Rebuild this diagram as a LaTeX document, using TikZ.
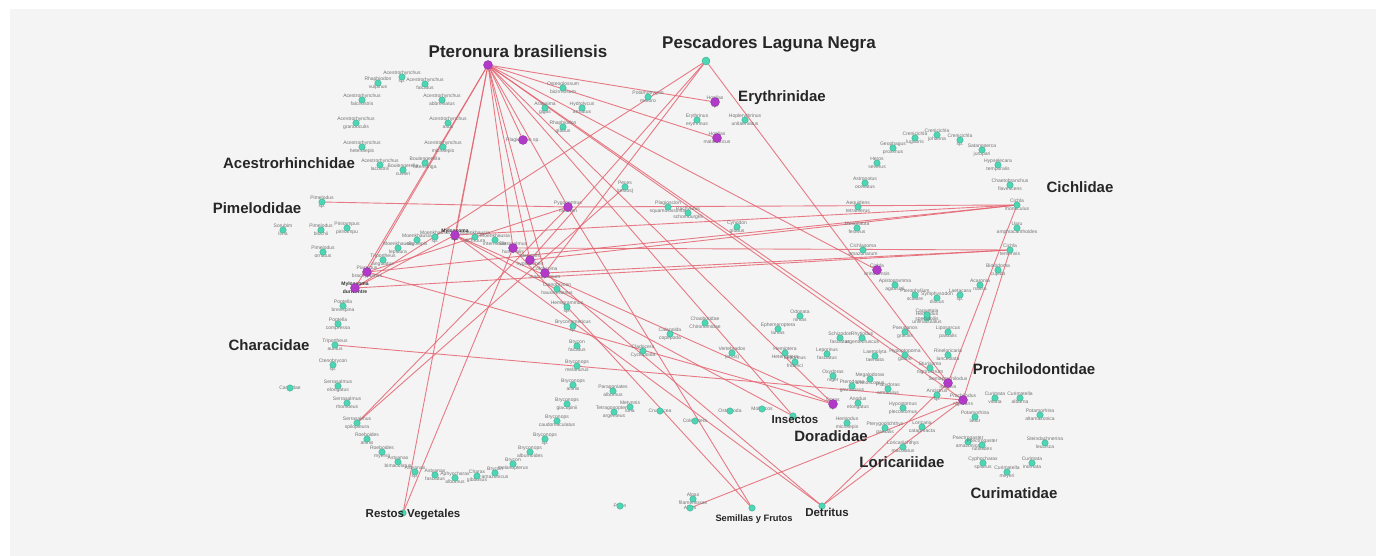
\documentclass[tikz,border=0pt]{standalone}
\usepackage{fontspec}
\setmainfont{Liberation Sans}
\definecolor{tealc}{RGB}{76,214,180}
\definecolor{purp}{RGB}{178,58,200}
\definecolor{edgec}{RGB}{228,100,112}
\definecolor{panel}{RGB}{244,244,244}
\pgfdeclarelayer{bg}
\pgfsetlayers{bg,main}
\begin{document}
\begin{tikzpicture}[x=1pt,y=-1pt,
  sp/.style={circle,fill=tealc,draw=tealc!75!black,line width=0.3pt,minimum size=6.5pt,inner sep=0pt},
  bsp/.style={sp,minimum size=8pt},
  hub/.style={circle,fill=purp,draw=purp!75!black,line width=0.3pt,minimum size=9pt,inner sep=0pt},
  tl/.style={font=\fontsize{5}{8}\selectfont,text=black!55,align=center,inner sep=0pt},
  tlb/.style={font=\fontsize{5}{8}\selectfont\bfseries,text=black!80,align=center,inner sep=0pt},
  fam/.style={font=\fontsize{15}{17}\selectfont\bfseries,text=black!85,inner sep=0pt},
  bigl/.style={font=\fontsize{17}{19}\selectfont\bfseries,text=black!85,inner sep=0pt},
  resl/.style={font=\fontsize{11.5}{13}\selectfont\bfseries,text=black!85,inner sep=0pt},
  seml/.style={font=\fontsize{9.3}{11}\selectfont\bfseries,text=black!85,inner sep=0pt},
  edge/.style={draw=edgec,line width=0.9pt,opacity=0.85}
]
\useasboundingbox (0,0) rectangle (1376,556);
\begin{pgfonlayer}{bg}
\fill[white] (0,0) rectangle (1376,556);
\fill[panel] (10,9) rectangle (1376,556);
\end{pgfonlayer}

% ---------- small species nodes ----------
\foreach \x/\y/\g/\s [count=\i] in {
402/77/Acestrorhynchus/sp.,
378/83/Rhaphiodon/vulpinus,
425/84/Acestrorhynchus/falcatus,
362/100/Acestrorhynchus/falcirostris,
442/100/Acestrorhynchus/abbreviatus,
356/123/Acestrorhynchus/grandoculis,
448/123/Acestrorhynchus/altus,
362/147/Acestrorhynchus/heterolepis,
443/147/Acestrorhynchus/microlepis,
380/165/Acestrorhynchus/lacustris,
403/170/Boulengerella/cuvieri,
425/163/Boulengerella/lateristriga,
283/230/Sorubim/lima,
321/230/Pimelodus/blochii,
347/228/Pinirampus/pirinampu,
323/252/Pimelodus/ornatus,
383/260/Triportheus/angulatus,
398/248/Moenkhausia/lepidura,
417/240/Moenkhausia/oligolepis,
435/237/Moenkhausia/sp.,
475/237/Moenkhausia/dichroura,
495/240/Moenkhausia/intermedia,
343/306/Poptella/brevispina,
338/324/Poptella/compressa,
333/365/Ctenobrycon/sp.,
338/386/Serrasalmus/elongatus,
347/403/Serrasalmus/rhombeus,
367/439/Roeboides/affinis,
382/452/Roeboides/myersii,
398/462/Astyanax/bimaculatus,
415/472/Astyanax/sp.,
435/475/Astyanax/fasciatus,
455/478/Aphyocharax/alburnus,
477/476/Charax/gibbosus,
495/473/Brycon/amazonicus,
513/464/Brycon/melanopterus,
530/452/Bryconops/alburnoides,
545/439/Bryconops/sp.,
557/421/Bryconops/caudomaculatus,
567/404/Bryconops/giacopinii,
573/385/Bryconops/affinis,
577/366/Bryconops/melanurus,
577/346/Brycon/falcatus,
573/326/Bryconamericus/sp.,
567/307/Hemigrammus/sp.,
557/289/Ctenobrycon/hauxwellianus,
613/391/Paragoniates/alburnus,
614/412/Tetragonopterus/argenteus,
630/407/Metynnis/luna,
643/351/Cladocera/Cyclopoida,
670/334/Calanoida/copepoda,
705/323/Chaoboridae/Chironomidae,
732/353/Vertebrados/(otros),
778/329/Ephemeroptera/larvas,
800/316/Odonata/ninfas,
785/353/Hemiptera/Heteroptera,
795/362/Leporinus/friderici,
827/354/Leporinus/fasciatus,
840/338/Schizodon/fasciatus,
862/338/Rhytiodus/argenteofuscus,
875/356/Laemolyta/taeniata,
833/376/Oxydoras/niger,
852/386/Pterodoras/granulosus,
870/379/Megalodoras/uranoscopus,
888/389/Platydoras/armatulus,
858/403/Anodus/elongatus,
847/423/Hemiodus/microlepis,
885/428/Pterygoplichthys/pardalis,
903/408/Hypostomus/plecostomus,
922/427/Loricaria/cataphracta,
903/447/Loricariichthys/maculatus,
905/332/Pseudanos/gracilis,
927/318/Hemiodus/unimaculatus,
948/332/Liposarcus/pardalis,
905/355/Hypoptopoma/gulare,
930/368/Sturisoma/nigrirostrum,
948/355/Rineloricaria/lanceolata,
937/395/Ancistrus/sp.,
995/398/Curimata/vittata,
1020/398/Curimatella/alburna,
975/417/Potamorhina/latior,
1040/415/Potamorhina/altamazonica,
968/442/Psectrogaster/amazonica,
982/445/Psectrogaster/rutiloides,
1045/443/Steindachnerina/leucisca,
983/463/Cyphocharax/spilurus,
1032/463/Curimata/inornata,
1007/472/Curimatella/meyeri,
915/138/Crenicichla/lugubris,
937/135/Crenicichla/johanna,
960/140/Crenicichla/sp.,
893/148/Geophagus/proximus,
982/150/Satanoperca/jurupari,
877/163/Heros/severus,
998/165/Hypselecara/temporalis,
865/183/Astronotus/ocellatus,
1010/185/Chaetobranchus/flavescens,
858/207/Aequidens/tetramerus,
857/228/Mesonauta/festivus,
1017/228/Uaru/amphiacanthoides,
863/250/Cichlasoma/amazonarum,
998/270/Biotodoma/cupido,
895/285/Apistogramma/agassizii,
980/285/Acaronia/nassa,
915/295/Pterophyllum/scalare,
937/298/Symphysodon/discus,
960/295/Laetacara/sp.,
927/315/Caquetaia/spectabilis,
563/88/Osteoglossum/bicirrhosum,
545/108/Arapaima/gigas,
582/108/Hydrolycus/armatus,
563/127/Rhaphiodon/gibbus,
648/97/Potamotrygon/motoro,
697/120/Erythrinus/erythrinus,
745/120/Hoplerythrinus/unitaeniatus,
668/207/Plagioscion/squamosissimus,
688/213/Pachyurus/schomburgkii,
737/227/Cynodon/gibbus,
693/499/Algas/filamentosas}
{\node[tl] (l\i) at (\x,\y) {\g\\\s}; \node[sp] (s\i) at (\x,\y) {};}

% single-line small nodes
\node[tl] (lcar) at (290,388) {Cardiidae};
\node[sp] (car) at (290,388) {};
\node[tl] (lcru) at (660,411) {Crustacea};
\node[sp] (cru) at (660,411) {};
\node[tl] (lcol) at (695,421) {Coleoptera};
\node[sp] (col) at (695,421) {};
\node[tl] (lost) at (730,411) {Ostracoda};
\node[sp] (ost) at (730,411) {};
\node[tl] (lmol) at (762,409) {Moluscos};
\node[sp] (mol) at (762,409) {};
\node[tl] (lpol) at (620,506) {Polen};
\node[sp] (pol) at (620,506) {};

% ---------- named teal nodes ----------
\node[tl] (lpim) at (322,202) {Pimelodus\\sp.};
\node[sp] (pim) at (322,202) {};
\node[tl] (lpec) at (625,187) {Peces\\(restos)};
\node[sp] (pec) at (625,187) {};
\node[tl] (lchr) at (335,345) {Triportheus\\auritus};
\node[sp] (chr) at (335,345) {};
\node[tl] (lcl) at (357,423) {Serrasalmus\\spilopleura};
\node[sp] (cl) at (357,423) {};
\node[tl] (lca) at (1017,205) {Cichla\\monoculus};
\node[sp] (ca) at (1017,205) {};
\node[tl] (lcb) at (1010,250) {Cichla\\temensis};
\node[sp] (cb) at (1010,250) {};
\node[tl] (lalg) at (690,508) {Algas};
\node[sp] (alg) at (690,508) {};
\node[sp] (ins) at (793,416) {};
\node[sp] (det) at (822,506) {};
\node[sp] (sem) at (752,508) {};
\node[sp] (res) at (403,513) {};
\node[bsp] (pq) at (706,61) {};

% ---------- purple nodes ----------
\node[hub] (pt) at (488,65) {};
\node[tl] (le1) at (715,102) {Hoplias\\sp.};
\node[hub] (e1) at (715,102) {};
\node[tl] (le2) at (717,138) {Hoplias\\malabaricus};
\node[hub] (e2) at (717,138) {};
\node[tl] (lm1) at (523,140) {Plagioscion sp.};
\node[hub] (m1) at (523,140) {};
\node[tl] (lhb) at (568,207) {Pygocentrus\\nattereri};
\node[hub] (hb) at (568,207) {};
\node[tlb] (lc1) at (455,235) {Mylossoma\\sp.};
\node[hub] (c1) at (455,235) {};
\node[tl] (lc2) at (513,248) {Serrasalmus\\humeralis};
\node[hub] (c2) at (513,248) {};
\node[tl] (lc3) at (530,260) {Metynnis\\hypsauchen};
\node[hub] (c3) at (530,260) {};
\node[tl] (lc4) at (545,273) {Colossoma\\macropomum};
\node[hub] (c4) at (545,273) {};
\node[tl] (lc5) at (367,272) {Piaractus\\brachypomus};
\node[hub] (c5) at (367,272) {};
\node[tlb] (lc6) at (355,288) {Mylossoma\\duriventre};
\node[hub] (c6) at (355,288) {};
\node[tl] (lk) at (877,270) {Cichla\\orinocensis};
\node[hub] (k) at (877,270) {};
\node[tl] (lpr1) at (948,383) {Semaprochilodus\\insignis};
\node[hub] (pr1) at (948,383) {};
\node[tl] (lpr2) at (963,400) {Prochilodus\\nigricans};
\node[hub] (pr2) at (963,400) {};
\node[tl] (ldor) at (833,404) {Doras\\sp.};
\node[hub] (dor) at (833,404) {};

% ---------- group labels ----------
\node[bigl] (tpt) at (518,51) {Pteronura brasiliensis};
\node[bigl] (tpq) at (769,44) {Pescadores Laguna Negra};
\node[fam] (tery) at (782,98) {Erythrinidae};
\node[fam] (tace) at (289,163) {Acestrorhinchidae};
\node[fam] (tpim) at (257,208) {Pimelodidae};
\node[fam] (tcic) at (1080,187) {Cichlidae};
\node[fam] (tcha) at (269,345) {Characidae};
\node[fam] (tpro) at (1034,369) {Prochilodontidae};
\node[fam] (tcur) at (1014,493) {Curimatidae};
\node[fam] (tlor) at (902,462) {Loricariidae};
\node[fam] (tdor) at (831,436) {Doradidae};
\node[resl] (tins) at (795,420) {Insectos};
\node[resl] (tdet) at (827,512) {Detritus};
\node[seml] (tsem) at (754,519) {Semillas y Frutos};
\node[resl] (tres) at (413,515) {Restos Vegetales};

% ---------- connectors ----------
\begin{pgfonlayer}{bg}
\foreach \a/\b in {pt/c5,pt/c6,pt/res,pt/c1,pt/c2,pt/c3,pt/c4,pt/hb,pt/e1,pt/e2,pt/k,
  pt/pr1,pt/pr2,pt/dor,pt/ins,pt/m1,
  pq/c3,pq/c4,pq/pr1,pq/c6,
  ca/c5,ca/c1,ca/c3,ca/pr1,ca/hb,
  cb/c4,cb/c2,cb/pr2,cb/c6,
  pim/hb,chr/pr2,cl/pec,cl/hb,alg/pr2,
  det/pr1,det/pr2,det/c1,det/c3,
  sem/hb,sem/c2,res/c2,
  c1/ins,c1/dor,c1/c6,hb/c5,c5/dor}
  {\draw[edge] (\a) -- (\b);}
\end{pgfonlayer}
\end{tikzpicture}
\end{document}
